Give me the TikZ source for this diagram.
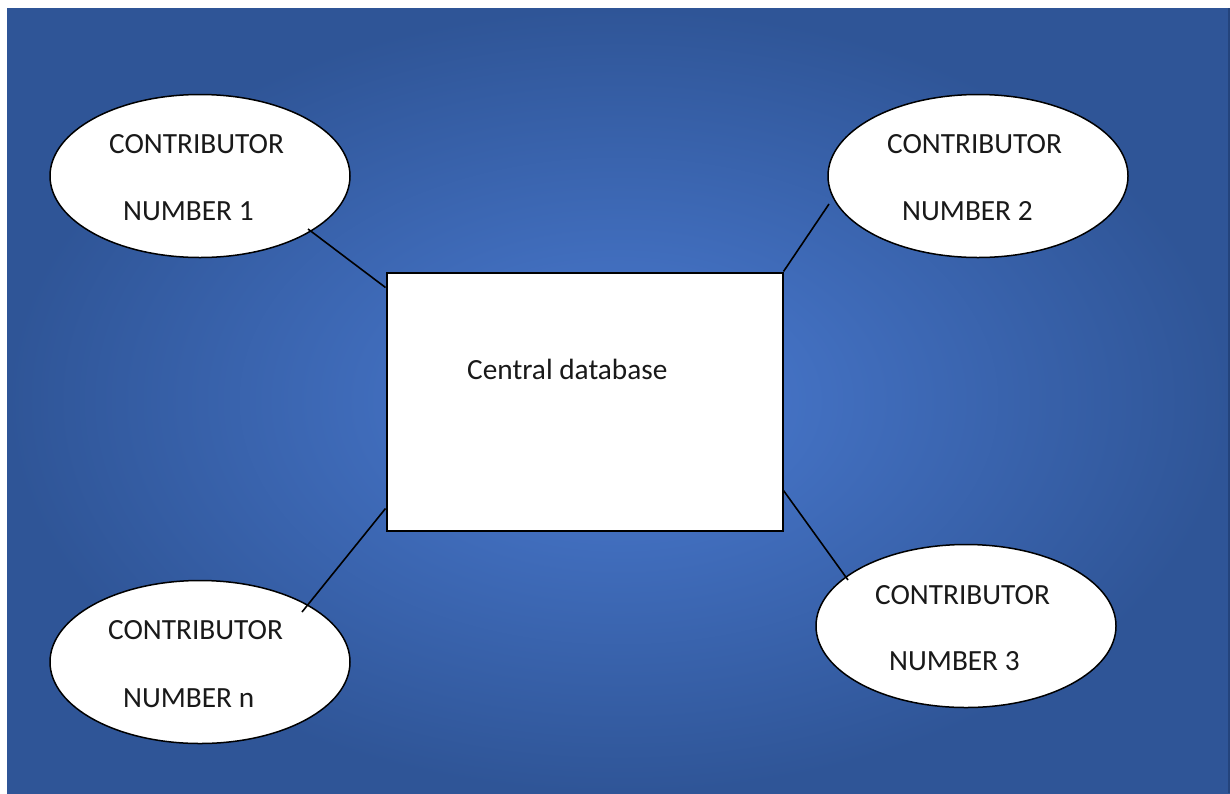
\documentclass[tikz,border=0pt]{standalone}
\usepackage{fontspec}
\setmainfont{Carlito}
\usetikzlibrary{shapes.geometric,calc}

\definecolor{bginner}{HTML}{4472C4}
\definecolor{bgouter}{HTML}{2F5597}
\definecolor{bgedge}{HTML}{24447C}

% centre-light radial fill for the backdrop
\pgfdeclareradialshading{backdrop}{\pgfpoint{0bp}{0bp}}{%
  color(0bp)=(bginner); color(6bp)=(bginner);
  color(25bp)=(bgouter); color(50bp)=(bgouter)}

\tikzset{
  contrib/.style={ellipse, draw=black, line width=1.5pt, fill=white,
    minimum width=300, minimum height=163, inner sep=0pt},
  dbbox/.style={rectangle, draw=black, line width=2pt, fill=white,
    minimum width=396, minimum height=258, inner sep=0pt},
  lbl/.style={anchor=base west, inner sep=0pt,
    font=\fontsize{29.3}{35}\selectfont, text=black!90},
  link/.style={draw=black, line width=1.6pt}
}

\begin{document}
\begin{tikzpicture}[x=1pt,y=-1pt]
  \useasboundingbox (0,0) rectangle (1230,793);

  % backdrop
  \shade[shading=backdrop] (7,8) rectangle (1230,793);
  \fill[bgedge] (1228,8) rectangle (1230,793);

  % central store
  \node[dbbox] (db) at (584.5,401.5) {};
  \node[lbl] (dbtext) at (467,379) {Central database};

  % contributors
  \node[contrib] (e1) at (200,176) {};
  \node[contrib] (e2) at (978,176) {};
  \node[contrib] (e3) at (966,626) {};
  \node[contrib] (en) at (200,662) {};

  \node[lbl] (e1a) at (109,153) {CONTRIBUTOR};
  \node[lbl] (e1b) at (123,220) {NUMBER 1};
  \node[lbl] (e2a) at (887,153) {CONTRIBUTOR};
  \node[lbl] (e2b) at (902,220) {NUMBER 2};
  \node[lbl] (e3a) at (875,604) {CONTRIBUTOR};
  \node[lbl] (e3b) at (889,670) {NUMBER 3};
  \node[lbl] (ena) at (108,639) {CONTRIBUTOR};
  \node[lbl] (enb) at (123,707) {NUMBER n};

  % links to the central store
  \draw[link] ($(e1.center)+(108,53)$) -- ($(db.north west)+(0,16)$);
  \draw[link] ($(e2.center)+(-149,28)$) -- (db.north east);
  \draw[link] ($(db.south east)+(0,-41)$) -- ($(e3.center)+(-118,-46)$);
  \draw[link] ($(db.south west)+(0,-23)$) -- ($(en.center)+(102,-50)$);
\end{tikzpicture}
\end{document}
